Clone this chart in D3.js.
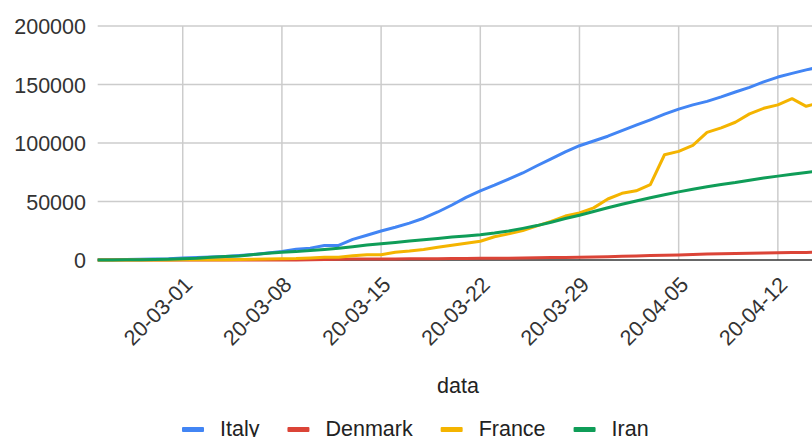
<!DOCTYPE html>
<html>
<head>
<meta charset="utf-8">
<script src="https://cdn.jsdelivr.net/npm/d3@7"></script>
<style>
  body { margin: 0; background: #fff; }
  svg { display: block; font-family: "Liberation Sans", Arial, sans-serif; }
</style>
</head>
<body>
<svg id="chart" width="812" height="437"></svg>
<script>
// daily dates, 2020-02-24 .. 2020-04-15
const startDate = "2020-02-24"
const dayCount = 52

const italy = [229, 322, 400, 650, 888, 1128, 1694, 2036, 2502, 3089, 3858, 4636, 5883, 7375,
  9172, 10149, 12462, 12462, 17660, 21157, 24747, 27980, 31506, 35713, 41035, 47021, 53578,
  59138, 63927, 69176, 74386, 80589, 86498, 92472, 97689, 101739, 105792, 110574, 115242,
  119827, 124632, 128948, 132547, 135586, 139422, 143626, 147577, 152271, 156363, 159516,
  162488, 165155]
const denmark = [0, 0, 0, 1, 1, 1, 3, 4, 4, 6, 10, 23, 23, 35, 90, 262, 442, 615, 801, 827,
  864, 914, 977, 1057, 1151, 1255, 1326, 1395, 1450, 1591, 1724, 1877, 2046, 2201, 2395,
  2577, 2860, 3107, 3386, 3757, 4077, 4369, 4681, 5071, 5402, 5635, 5819, 5996, 6174, 6318,
  6511, 6681]
const france = [12, 14, 18, 38, 57, 100, 130, 191, 204, 288, 380, 656, 957, 1134, 1217, 1792,
  2289, 2289, 3672, 4480, 4513, 6650, 7652, 9043, 10871, 12612, 14282, 16018, 19856, 22304,
  25233, 29155, 32964, 37575, 40174, 44550, 52128, 56989, 59105, 64338, 89953, 92839, 98010,
  109069, 112950, 117749, 124869, 129654, 132591, 137877, 131361, 134582]
const iran = [61, 95, 139, 245, 388, 593, 978, 1501, 2336, 2922, 3513, 4747, 5823, 6566, 7161,
  8042, 9000, 10075, 11364, 12729, 13938, 14991, 16169, 17361, 18407, 19644, 20610, 21638,
  23049, 24811, 27017, 29406, 32332, 35408, 38309, 41495, 44605, 47593, 50468, 53183, 55743,
  58226, 60500, 62589, 64586, 66220, 68192, 70029, 71686, 73303, 74877, 76389]

const seriesNames = ["Italy", "Denmark", "France", "Iran"]
const seriesColors = ["#4285f4", "#db4437", "#f4b400", "#0f9d58"]
const yTicks = [0, 50000, 100000, 150000, 200000]
const xTickLabels = ["2020-03-01", "2020-03-08", "2020-03-15", "2020-03-22", "2020-03-29", "2020-04-05", "2020-04-12"]
const xTitle = "data"

const svg = d3.select("#chart")
const parse = d3.utcParse("%Y-%m-%d")
const fmt = d3.utcFormat("%y-%m-%d")

let dates = d3.utcDay.range(parse(startDate), d3.utcDay.offset(parse(startDate), dayCount))
let series = [italy, denmark, france, iran].map((vals, i) => ({
    name: seriesNames[i],
    color: seriesColors[i],
    values: vals.map((v, j) => ({date: dates[j], value: v}))
}))

// plot box (right side runs past the window, like the cropped original)
const plotLeft = 97.7, plotTop = 26, plotBottom = 260
let x = d3.scaleUtc()
    .domain([dates[0], dates[dates.length - 1]])
    .range([plotLeft, plotLeft + (dates.length - 1) * 14.17])
let y = d3.scaleLinear()
    .domain([0, 200000])
    .range([plotBottom, plotTop])

// grid
svg.append("g")
    .selectAll("line")
    .data(yTicks.slice(1))
    .enter()
    .append("line")
    .attr("x1", plotLeft).attr("x2", 830)
    .attr("y1", d => y(d)).attr("y2", d => y(d))
    .attr("stroke", "#cccccc").attr("stroke-width", 1.5)

let xTicks = xTickLabels.map(parse)
svg.append("g")
    .selectAll("line")
    .data(xTicks)
    .enter()
    .append("line")
    .attr("x1", d => x(d)).attr("x2", d => x(d))
    .attr("y1", plotTop).attr("y2", plotBottom)
    .attr("stroke", "#cccccc").attr("stroke-width", 1.5)

// y labels
svg.append("g")
    .selectAll("text")
    .data(yTicks)
    .enter()
    .append("text")
    .attr("x", 86)
    .attr("y", d => y(d) + 8)
    .attr("text-anchor", "end")
    .attr("font-size", 21.5)
    .attr("fill", "#333")
    .text(d => d)

// x labels, rotated
svg.append("g")
    .selectAll("text")
    .data(xTicks)
    .enter()
    .append("text")
    .attr("transform", d => `translate(${x(d) + 6}, 281) rotate(-45)`)
    .attr("dy", 7)
    .attr("text-anchor", "end")
    .attr("font-size", 21.5)
    .attr("fill", "#333")
    .text(d => fmt(d))

// lines
let line = d3.line()
    .x(d => x(d.date))
    .y(d => y(d.value))

svg.append("line")
    .attr("x1", plotLeft).attr("x2", 830)
    .attr("y1", plotBottom).attr("y2", plotBottom)
    .attr("stroke", "#333").attr("stroke-width", 1.5)

svg.append("g")
    .selectAll("path")
    .data(series)
    .enter()
    .append("path")
    .attr("d", d => line(d.values))
    .attr("fill", "none")
    .attr("stroke", d => d.color)
    .attr("stroke-width", 3)
    .attr("stroke-linejoin", "round")

// axis title
svg.append("text")
    .attr("x", 458)
    .attr("y", 393)
    .attr("text-anchor", "middle")
    .attr("font-size", 21.5)
    .attr("fill", "#222")
    .text(xTitle)

// legend
let legend = svg.append("g")
let lx = 182
series.forEach(s => {
    legend.append("rect")
        .attr("x", lx).attr("y", 427)
        .attr("width", 22).attr("height", 5)
        .attr("rx", 1)
        .attr("fill", s.color)
    let t = legend.append("text")
        .attr("x", lx + 38)
        .attr("y", 436)
        .attr("font-size", 21.5)
        .attr("fill", "#222")
        .text(s.name)
    lx += 38 + t.node().getComputedTextLength() + 28
})
</script>
</body>
</html>
